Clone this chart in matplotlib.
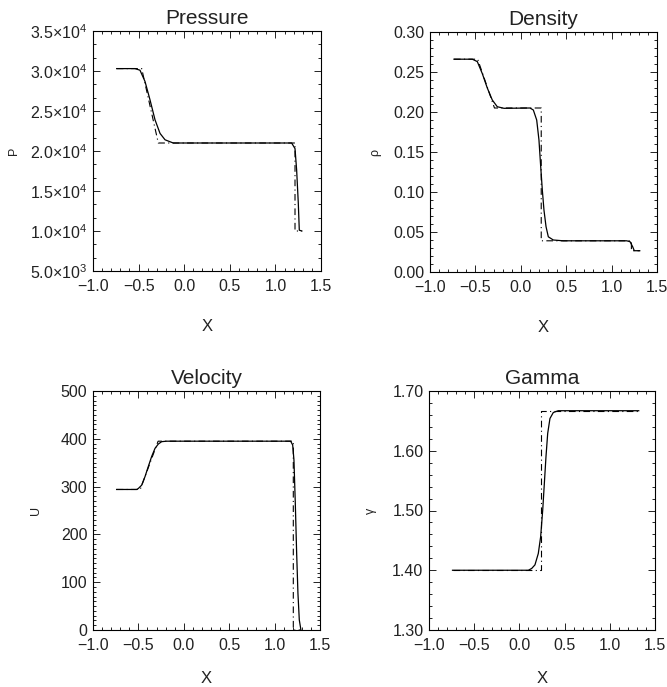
import matplotlib
matplotlib.use('Agg')
import matplotlib.pyplot as plt
from matplotlib.ticker import AutoMinorLocator, FixedLocator, FixedFormatter

# narrow fonts first, whichever is installed gets used
plt.rcParams['font.family'] = ['Liberation Sans Narrow', 'DejaVu Sans Condensed',
                               'Liberation Sans', 'DejaVu Sans']
plt.rcParams['mathtext.fontset'] = 'custom'
plt.rcParams['mathtext.rm'] = 'Liberation Sans'
plt.rcParams['mathtext.it'] = 'Liberation Sans'

# ---- data ----
# pressure
p_num_x = [-0.74, -0.54, -0.485, -0.43, -0.375, -0.32, -0.265, -0.21, -0.12,
           1.178, 1.215, 1.233, 1.251, 1.262, 1.29]
p_num_y = [3.03e4, 3.03e4, 3.01e4, 2.87e4, 2.64e4, 2.39e4, 2.22e4, 2.14e4, 2.10e4,
           2.10e4, 2.03e4, 1.76e4, 1.35e4, 1.01e4, 1.0e4]
p_ex_x = [-0.74, -0.466, -0.284, 1.215, 1.215, 1.29]
p_ex_y = [3.03e4, 3.03e4, 2.10e4, 2.10e4, 1.0e4, 1.0e4]
p_ticks = [5e3, 1e4, 1.5e4, 2e4, 2.5e4, 3e4, 3.5e4]
p_labels = ['5.0×10$^3$', '1.0×10$^4$', '1.5×10$^4$', '2.0×10$^4$',
            '2.5×10$^4$', '3.0×10$^4$', '3.5×10$^4$']

# density
r_num_x = [-0.736, -0.534, -0.479, -0.424, -0.369, -0.314, -0.259, -0.185,
           0.101, 0.138, 0.175, 0.2, 0.219, 0.237, 0.255, 0.278, 0.303, 0.358, 0.468,
           1.166, 1.203, 1.232, 1.25, 1.31]
r_num_y = [0.266, 0.266, 0.263, 0.248, 0.230, 0.215, 0.2066, 0.2046,
           0.205, 0.2025, 0.19, 0.165, 0.132, 0.1025, 0.0775, 0.0566, 0.044, 0.040, 0.039,
           0.039, 0.0379, 0.0316, 0.0266, 0.0266]
r_ex_x = [-0.736, -0.475, -0.29, 0.225, 0.225, 1.218, 1.218, 1.31]
r_ex_y = [0.266, 0.266, 0.205, 0.205, 0.039, 0.039, 0.0266, 0.0266]
r_ticks = [0.0, 0.05, 0.10, 0.15, 0.20, 0.25, 0.30]
r_labels = ['0.00', '0.05', '0.10', '0.15', '0.20', '0.25', '0.30']

# velocity
u_num_x = [-0.74, -0.519, -0.501, -0.464, -0.427, -0.391, -0.354, -0.317, -0.281,
           -0.244, -0.19, 1.177, 1.199, 1.213, 1.228, 1.243, 1.257, 1.272, 1.29]
u_num_y = [294, 294, 296, 303, 321, 342, 363, 380, 389,
           394, 395, 395, 387, 356, 265, 160, 77, 21, 0]
u_ex_x = [-0.74, -0.48, -0.283, 1.206, 1.206, 1.29]
u_ex_y = [294, 294, 395, 395, 0, 0]
u_ticks = [0, 100, 200, 300, 400, 500]
u_labels = ['0', '100', '200', '300', '400', '500']

# gamma
g_num_x = [-0.74, 0.099, 0.136, 0.172, 0.209, 0.235, 0.258, 0.276, 0.294,
           0.313, 0.338, 0.375, 0.43, 1.32]
g_num_y = [1.40, 1.40, 1.403, 1.409, 1.428, 1.456, 1.501, 1.5455, 1.59,
           1.629, 1.654, 1.664, 1.667, 1.667]
g_ex_x = [-0.74, 0.235, 0.235, 1.32]
g_ex_y = [1.40, 1.40, 1.667, 1.667]
g_ticks = [1.3, 1.4, 1.5, 1.6, 1.7]
g_labels = ['1.30', '1.40', '1.50', '1.60', '1.70']

x_ticks = [-1.0, -0.5, 0.0, 0.5, 1.0, 1.5]
x_labels = ['\u22121.0', '\u22120.5', '0.0', '0.5', '1.0', '1.5']

fig = plt.figure(figsize=(6.67, 6.87), dpi=100)
fig.patch.set_facecolor('white')

W, H = 667.0, 687.0
# (left, top, right, bottom) in pixels
boxes = [(93, 31, 321, 271), (430, 32, 657, 272),
         (93, 391, 320, 630), (429, 391, 655, 630)]

panels = [
    ('Pressure', 'P', p_num_x, p_num_y, p_ex_x, p_ex_y, p_ticks, p_labels, (5e3, 3.5e4), 3, -0.32, -0.2),
    ('Density', '\u03c1', r_num_x, r_num_y, r_ex_x, r_ex_y, r_ticks, r_labels, (0.0, 0.30), 5, -0.216, -0.2),
    ('Velocity', 'U', u_num_x, u_num_y, u_ex_x, u_ex_y, u_ticks, u_labels, (0, 500), 10, -0.225, -0.17),
    ('Gamma', '\u03b3', g_num_x, g_num_y, g_ex_x, g_ex_y, g_ticks, g_labels, (1.3, 1.7), 5, -0.23, -0.17),
]

for box, pan in zip(boxes, panels):
    title, ylab, nx, ny, ex, ey, yt, yl, ylim, nminor, ylx, xly = pan
    l, t, r, b = box
    ax = fig.add_axes([l / W, 1 - b / H, (r - l) / W, (b - t) / H])

    ax.plot(ex, ey, color='black', lw=0.8, linestyle=(0, (6, 3, 1, 3)))
    ax.plot(nx, ny, color='black', lw=0.9)

    ax.set_xlim(-1.0, 1.5)
    ax.set_ylim(*ylim)
    ax.xaxis.set_major_locator(FixedLocator(x_ticks))
    ax.xaxis.set_major_formatter(FixedFormatter(x_labels))
    ax.xaxis.set_minor_locator(AutoMinorLocator(5))
    ax.yaxis.set_major_locator(FixedLocator(yt))
    ax.yaxis.set_major_formatter(FixedFormatter(yl))
    ax.yaxis.set_minor_locator(AutoMinorLocator(nminor))

    ax.tick_params(which='both', direction='in', top=True, right=True, width=0.6)
    ax.tick_params(which='major', length=5, labelsize=11.5, labelcolor='#222222')
    ax.tick_params(which='minor', length=2.5)
    ax.tick_params(axis='x', pad=6)
    ax.tick_params(axis='y', pad=4)
    for s in ax.spines.values():
        s.set_linewidth(0.8)

    ax.set_title(title, fontsize=15, pad=5, color='#222222')
    ax.set_xlabel('X', fontsize=12, color='#222222')
    ax.xaxis.set_label_coords(0.5, xly)
    ax.set_ylabel(ylab, fontsize=9, color='#222222')
    ax.yaxis.set_label_coords(ylx, 0.5)

fig.savefig('out.png', dpi=100)
